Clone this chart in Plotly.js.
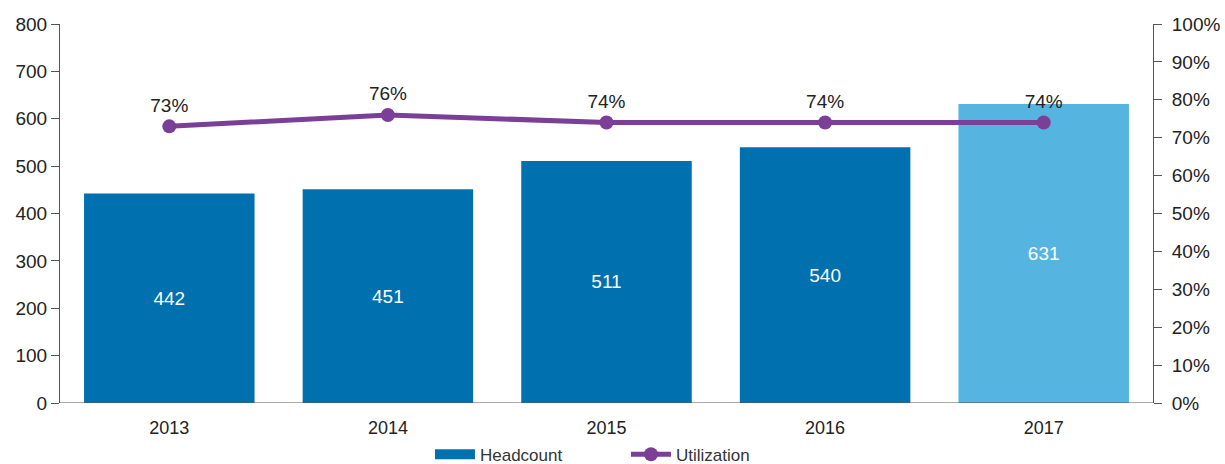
<!DOCTYPE html>
<html>
<head>
<meta charset="utf-8">
<script src="https://cdn.plot.ly/plotly-3.0.1.min.js"></script>
<style>html,body{margin:0;padding:0;background:#fff;}#chart{width:1225px;height:464px;}</style>
</head>
<body>
<div id="chart"></div>
<script>
const years = ['2013', '2014', '2015', '2016', '2017'];
const headcount = [442, 451, 511, 540, 631];
const utilization = [73, 76, 74, 74, 74];
const barColors = ['#0070AE', '#0070AE', '#0070AE', '#0070AE', '#56B4E0'];

const FONT = 'Liberation Sans, Arial, Helvetica, sans-serif';

const traces = [
  {
    type: 'bar', x: years, y: headcount, name: 'Headcount', showlegend: false,
    marker: {color: barColors},
    text: headcount.map(String), textposition: 'inside', insidetextanchor: 'middle',
    textfont: {color: '#ffffff', size: 19, family: FONT},
    hoverinfo: 'x+y'
  },
  {
    type: 'scatter', mode: 'lines', x: [null], y: [null], name: 'Headcount',
    line: {color: '#0070AE', width: 10}, showlegend: true
  },
  {
    type: 'scatter', mode: 'lines+markers+text', x: years, y: utilization, name: 'Utilization',
    yaxis: 'y2',
    line: {color: '#7B3F98', width: 5},
    marker: {color: '#7B3F98', size: 14},
    text: utilization.map(v => v + '%'), textposition: 'top center',
    textfont: {color: '#222222', size: 19, family: FONT}
  }
];

const layout = {
  width: 1225, height: 464,
  margin: {l: 60, r: 72, t: 24, b: 61},
  paper_bgcolor: '#ffffff', plot_bgcolor: '#ffffff',
  font: {family: FONT, size: 19, color: '#222222'},
  bargap: 0.22,
  xaxis: {
    type: 'category', showgrid: false, zeroline: false, showline: false,
    ticks: '', tickfont: {size: 18, color: '#222222'}, ticklabelstandoff: 12
  },
  yaxis: {
    range: [0, 800], dtick: 100, showgrid: false, zeroline: false,
    showline: true, linecolor: '#555555', linewidth: 1,
    ticks: 'outside', ticklen: 8, tickcolor: '#555555',
    tickfont: {size: 19, color: '#222222'}
  },
  yaxis2: {
    overlaying: 'y', side: 'right', range: [0, 100], dtick: 10, ticksuffix: '%',
    showgrid: false, zeroline: false,
    showline: true, linecolor: '#555555', linewidth: 1,
    ticks: 'outside', ticklen: 8, tickcolor: '#555555',
    tickfont: {size: 19, color: '#222222'}, ticklabelstandoff: 6
  },
  shapes: [
    {type: 'line', xref: 'paper', yref: 'y', x0: 0, x1: 1, y0: 0, y1: 0, line: {color: '#555555', width: 1}}
  ],
  showlegend: true,
  legend: {
    orientation: 'h', xref: 'container', yref: 'container',
    x: 0.351, xanchor: 'left', y: 0.02, yanchor: 'middle',
    font: {size: 17, color: '#333333'}, itemwidth: 40, entrywidth: 141,
    traceorder: 'normal'
  }
};

Plotly.newPlot('chart', traces, layout, {displayModeBar: false, staticPlot: true});
</script>
</body>
</html>
